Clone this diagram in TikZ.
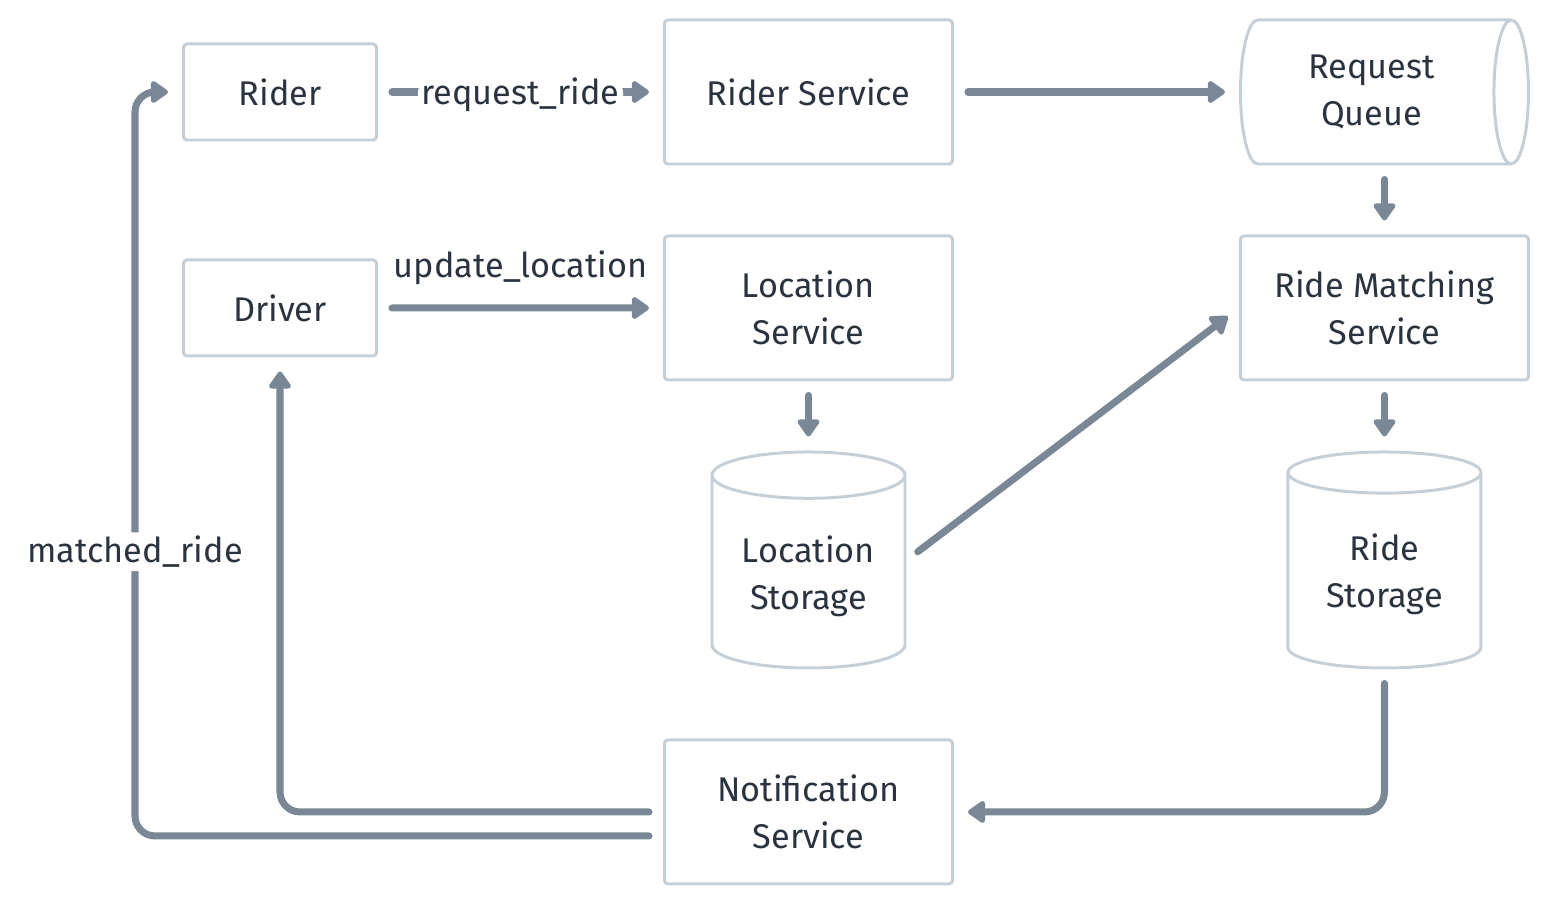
\documentclass[tikz,border=0pt]{standalone}
\usepackage{fontspec}
\setmainfont{Fira Sans}
\usepackage{tikz}
\usetikzlibrary{arrows.meta,positioning,shapes.geometric}

\definecolor{edgegray}{HTML}{C5CFD8}
\definecolor{flowgray}{HTML}{7A8797}
\definecolor{inkgray}{HTML}{2A3441}

\tikzset{
  box/.style={draw=edgegray,line width=1.7pt,rounded corners=2pt,fill=white,
    text=inkgray,align=center,font=\fontsize{19.5}{27}\selectfont},
  smallbox/.style={box,minimum width=3.86cm,minimum height=1.92cm},
  bigbox/.style={box,minimum width=5.76cm,minimum height=2.88cm},
  queuebox/.style={box,rounded corners=0pt,shape=cylinder,aspect=0.4,
    minimum width=2.88cm,minimum height=5.76cm},
  storebox/.style={box,rounded corners=0pt,shape=cylinder,shape border rotate=90,aspect=0.32,
    minimum width=3.86cm,minimum height=4.32cm},
  flow/.style={draw=flowgray,line width=4pt,line cap=round,rounded corners=0.4cm,
    -{Triangle[length=0.38cm,width=0.5cm,round]},shorten <=0.28cm,shorten >=0.28cm},
  lbl/.style={text=inkgray,font=\fontsize{19.5}{24}\selectfont,fill=white,inner sep=2pt}
}

\begin{document}
\begin{tikzpicture}
\useasboundingbox (0,0) rectangle (30.96,-18.08);

\node[smallbox] (rider) at (5.6,-1.84) {Rider};
\node[bigbox,right=5.70cm of rider] (rsvc) {Rider Service};
\node[queuebox,right=5.70cm of rsvc] (queue) {Request\\Queue};

\node[smallbox,below=2.34cm of rider] (driver) {Driver};
\node[bigbox,below=1.38cm of rsvc] (lsvc) {Location\\Service};
\node[bigbox,right=5.70cm of lsvc] (match) {Ride Matching\\Service};

\node[storebox,below=1.38cm of lsvc] (lstore) {Location\\Storage};
\node[storebox,below=1.38cm of match] (rstore) {Ride\\Storage};

\node[bigbox,below=1.38cm of lstore] (notify) {Notification\\Service};
\coordinate (back) at (2.7,-1.84);

\draw[flow] (rider) -- node[lbl,yshift=-0.05cm] (reqlbl) {request\_ride} (rsvc);
\draw[flow] (rsvc) -- (queue);
\draw[flow] (queue.south -| match) -- (match);
\draw[flow] (driver) -- node[lbl,fill=none,yshift=0.8cm] (updlbl) {update\_location} (lsvc);
\draw[flow] (lsvc) -- (lstore);
\draw[flow] (match) -- (rstore);
\draw[flow] ([yshift=0.32cm]lstore.east) -- (match.west);
\draw[flow] (rstore) |- (notify);
\draw[flow] (notify) -| (driver);
\draw[flow] ([yshift=-0.48cm]notify.west) -| node[lbl,pos=0.691] (mlbl) {matched\_ride} (back) -- (rider);
\end{tikzpicture}
\end{document}
